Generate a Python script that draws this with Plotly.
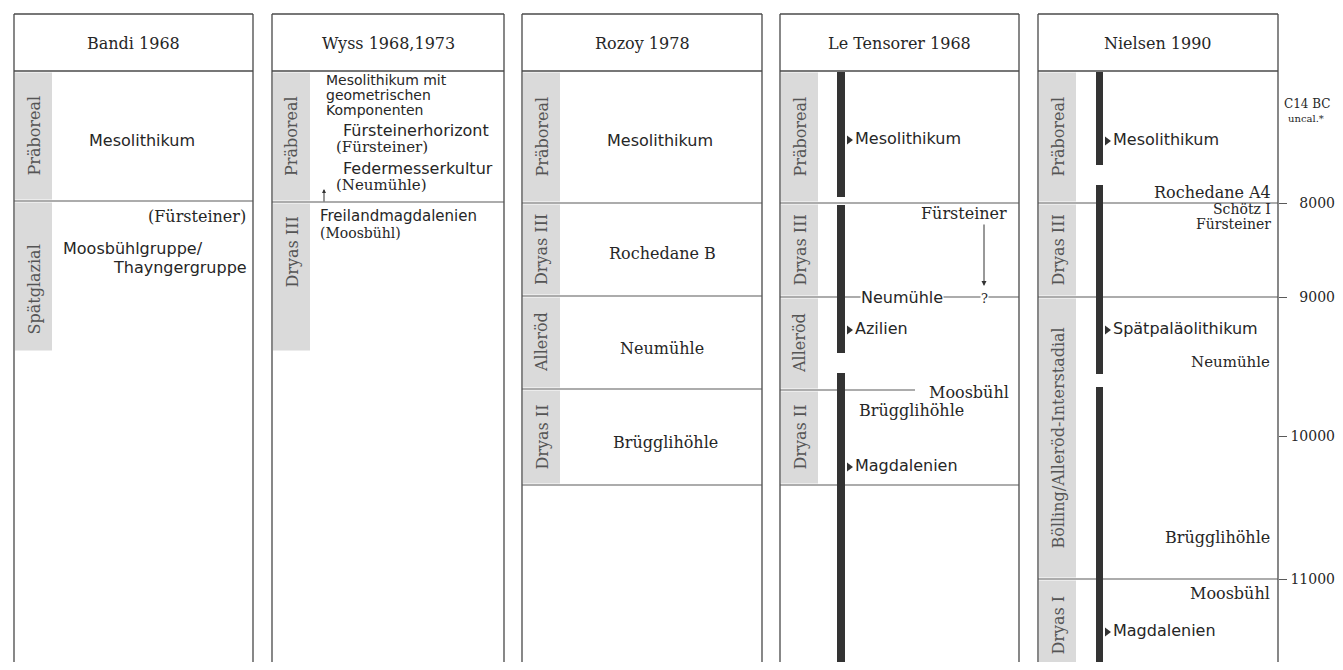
import plotly.graph_objects as go

# ---------------- data ----------------
AUTHORS = ["Bandi 1968", "Wyss 1968,1973", "Rozoy 1978", "Le Tensorer 1968", "Nielsen 1990"]

# climatic phases per author (names) and their boundaries on the schematic depth scale
BANDI_PHASES = ["Präboreal", "Spätglazial"]
BANDI_EDGES = [71, 201, 352]
WYSS_PHASES = ["Präboreal", "Dryas III"]
WYSS_EDGES = [71, 202, 352]
ROZOY_PHASES = ["Präboreal", "Dryas III", "Alleröd", "Dryas II"]
ROZOY_EDGES = [71, 203, 296, 389, 485]
TENSORER_PHASES = ["Präboreal", "Dryas III", "Alleröd", "Dryas II"]
TENSORER_EDGES = [71, 203, 297, 390, 485]
NIELSEN_PHASES = ["Präboreal", "Dryas III", "Bölling/Alleröd-Interstadial", "Dryas I"]
NIELSEN_EDGES = [71, 203, 297, 579, 670]

# C14 age scale (right side)
AGE_TICKS = [8000, 9000, 10000, 11000]
AGE_TICK_DEPTH = [203, 297, 436, 579]

# black occupation bars
TENSORER_BAR_FROM = [72, 205, 373]
TENSORER_BAR_TO = [197, 353, 670]
NIELSEN_BAR_FROM = [72, 185, 387]
NIELSEN_BAR_TO = [165, 374, 670]

# marked cultures on the bars
TENSORER_MARKS = ["Mesolithikum", "Azilien", "Magdalenien"]
TENSORER_MARK_DEPTH = [140, 330, 467]
NIELSEN_MARKS = ["Mesolithikum", "Spätpaläolithikum", "Magdalenien"]
NIELSEN_MARK_DEPTH = [141, 330, 632]

# free labels
BANDI_LABELS = ["Mesolithikum", "(Fürsteiner)", "Moosbühlgruppe/", "Thayngergruppe"]
BANDI_LABEL_DEPTH = [140, 216, 248, 267]
WYSS_LABELS = ["Mesolithikum mit", "geometrischen", "Komponenten", "Fürsteinerhorizont",
               "(Fürsteiner)", "Federmesserkultur", "(Neumühle)", "Freilandmagdalenien", "(Moosbühl)"]
WYSS_LABEL_DEPTH = [80, 95, 110, 130, 147, 168, 185, 216, 233]
ROZOY_LABELS = ["Mesolithikum", "Rochedane B", "Neumühle", "Brügglihöhle"]
ROZOY_LABEL_DEPTH = [140, 253, 348, 442]
TENSORER_LABELS = ["Fürsteiner", "Neumühle", "?", "Moosbühl", "Brügglihöhle"]
TENSORER_LABEL_DEPTH = [213, 297, 298, 392, 410]
NIELSEN_LABELS = ["Rochedane A4", "Schötz I", "Fürsteiner", "Neumühle", "Brügglihöhle", "Moosbühl"]
NIELSEN_LABEL_DEPTH = [192, 209, 224, 362, 537, 593]

# ---------------- layout / style ----------------
PAGE_W, PAGE_H = 1343, 670
PAGE_MARGIN = 8                      # default body margin of the html page
W, H = PAGE_W - 2 * PAGE_MARGIN, PAGE_H - 2 * PAGE_MARGIN
X_END, Y_END = PAGE_MARGIN + W, PAGE_MARGIN + H
SERIF = "DejaVu Serif"
SANS = "DejaVu Sans"
INK = "#262626"
LINE = "#5a5a5a"
STRIP = "#dadada"
STRIP_W = 37
TOP, HEAD_BOTTOM = 14, 71

COL_LEFT = [14, 272, 522, 780, 1038]
COL_RIGHT = [253, 504, 762, 1019, 1278]

PHASES = [BANDI_PHASES, WYSS_PHASES, ROZOY_PHASES, TENSORER_PHASES, NIELSEN_PHASES]
EDGES = [BANDI_EDGES, WYSS_EDGES, ROZOY_EDGES, TENSORER_EDGES, NIELSEN_EDGES]
LINE_EDGES = [
    [(201, None)],
    [(202, None)],
    [(203, None), (296, None), (389, None), (485, None)],
    [(203, None), (297, None), (390, 915), (485, None)],
    [(203, None), (297, None), (579, None)],
]
STRIP_LABEL_CENTER = {(0, 1): 290, (1, 1): 252, (3, 3): 437, (4, 3): 625}

BANDI_POS = [(142, "center", SANS, 16), (247, "right", SERIF, 16),
             (62, "left", SANS, 16), (248, "right", SANS, 16)]
WYSS_POS = [(325, "left", SANS, 14), (325, "left", SANS, 14), (325, "left", SANS, 14),
            (342, "left", SANS, 16), (335, "left", SERIF, 15), (342, "left", SANS, 16),
            (335, "left", SERIF, 15), (319, "left", SANS, 15), (319, "left", SERIF, 14)]
ROZOY_POS = [(660, "center", SANS, 16), (662, "center", SERIF, 16),
             (662, "center", SERIF, 16), (665, "center", SERIF, 16)]
TENSORER_POS = [(1008, "right", SERIF, 16), (902, "center", SANS, 16), (984, "center", SERIF, 13),
                (1010, "right", SERIF, 16), (858, "left", SERIF, 16)]
NIELSEN_POS = [(1272, "right", SERIF, 16), (1272, "right", SERIF, 14), (1272, "right", SERIF, 14),
               (1271, "right", SERIF, 15), (1271, "right", SERIF, 16), (1271, "right", SERIF, 16)]

fig = go.Figure()
shapes = []
annotations = []

for c, author in enumerate(AUTHORS):
    L, R = COL_LEFT[c], COL_RIGHT[c]
    for x in (L, R):
        shapes.append(dict(type="line", x0=x, x1=x, y0=TOP, y1=Y_END + 5,
                           line=dict(color="#6a6a6a", width=1.6)))
    for y in (TOP, HEAD_BOTTOM):
        shapes.append(dict(type="line", x0=L, x1=R, y0=y, y1=y, line=dict(color="#4a4a4a", width=1.4)))
    annotations.append(dict(x=(L + R) / 2, y=(TOP + HEAD_BOTTOM) / 2 + 1, text=author, showarrow=False,
                            font=dict(family=SERIF, size=16, color=INK)))
    edges = EDGES[c]
    for i, name in enumerate(PHASES[c]):
        y0, y1 = edges[i], min(edges[i + 1], Y_END + 5)
        shapes.append(dict(type="rect", x0=L + 1, x1=L + 1 + STRIP_W, y0=y0 + 1.5, y1=y1 - 1.5,
                           fillcolor=STRIP, line=dict(width=0), layer="below"))
        yc = STRIP_LABEL_CENTER.get((c, i), (y0 + y1) / 2)
        annotations.append(dict(x=L + 1 + STRIP_W / 2, y=yc, text=name, textangle=-90, showarrow=False,
                                font=dict(family=SERIF, size=16, color="#555555")))
    for y, xend in LINE_EDGES[c]:
        shapes.append(dict(type="line", x0=L, x1=xend if xend else R, y0=y, y1=y,
                           line=dict(color=LINE, width=1.2)))

# black bars
for froms, tos, xb in [(TENSORER_BAR_FROM, TENSORER_BAR_TO, (837, 845)),
                       (NIELSEN_BAR_FROM, NIELSEN_BAR_TO, (1096, 1103))]:
    for a, b in zip(froms, tos):
        shapes.append(dict(type="rect", x0=xb[0], x1=xb[1], y0=a, y1=min(b, Y_END + 5),
                           fillcolor="#333333", line=dict(width=0)))

# bar markers and labels
for marks, depth, xm in [(TENSORER_MARKS, TENSORER_MARK_DEPTH, 849),
                         (NIELSEN_MARKS, NIELSEN_MARK_DEPTH, 1107)]:
    fig.add_trace(go.Scatter(x=[xm] * len(depth), y=depth, mode="markers+text",
                             marker=dict(symbol="triangle-right", size=8, color="#333333"),
                             text=marks, textposition="middle right",
                             textfont=dict(family=SANS, size=16, color=INK),
                             hoverinfo="skip", showlegend=False))

# free labels
for labels, depths, pos in [(BANDI_LABELS, BANDI_LABEL_DEPTH, BANDI_POS),
                            (WYSS_LABELS, WYSS_LABEL_DEPTH, WYSS_POS),
                            (ROZOY_LABELS, ROZOY_LABEL_DEPTH, ROZOY_POS),
                            (TENSORER_LABELS, TENSORER_LABEL_DEPTH, TENSORER_POS),
                            (NIELSEN_LABELS, NIELSEN_LABEL_DEPTH, NIELSEN_POS)]:
    for text, y, (x, anchor, fam, size) in zip(labels, depths, pos):
        a = dict(x=x, y=y, text=text, showarrow=False, xanchor=anchor,
                 font=dict(family=fam, size=size, color=INK), borderpad=0)
        if labels is TENSORER_LABELS and text in ("Neumühle", "?"):
            a["bgcolor"] = "white"
        annotations.append(a)

# arrows
annotations.append(dict(x=984, y=286, ax=984, ay=223, axref="x", ayref="y", text="", showarrow=True,
                        arrowhead=2, arrowsize=1, arrowwidth=1, arrowcolor="#333333"))
annotations.append(dict(x=324, y=189, ax=324, ay=203, axref="x", ayref="y", text="", showarrow=True,
                        arrowhead=2, arrowsize=0.8, arrowwidth=1, arrowcolor="#333333"))

# axis title
annotations.append(dict(x=1333, y=104, text="C14 BC", showarrow=False, xanchor="right",
                        font=dict(family=SERIF, size=12, color=INK)))
annotations.append(dict(x=1326, y=118, text="uncal.*", showarrow=False, xanchor="right",
                        font=dict(family=SERIF, size=10, color=INK)))

for ax in ("y2", "y3"):
    fig.add_trace(go.Scatter(x=[100], y=[AGE_TICK_DEPTH[0]], yaxis=ax, mode="markers",
                             marker=dict(opacity=0), hoverinfo="skip", showlegend=False))

fig.update_layout(
    width=W, height=H, margin=dict(l=0, r=0, t=0, b=0),
    paper_bgcolor="white", plot_bgcolor="white",
    xaxis=dict(range=[PAGE_MARGIN, X_END], visible=False, fixedrange=True),
    yaxis=dict(range=[Y_END, PAGE_MARGIN], visible=False, fixedrange=True),
    yaxis2=dict(range=[Y_END, PAGE_MARGIN], overlaying="y", anchor="free",
                position=(1278 - PAGE_MARGIN) / W, side="right",
                tickvals=AGE_TICK_DEPTH, ticktext=[str(a) for a in AGE_TICKS], showticklabels=False,
                ticks="outside", ticklen=8, tickcolor=LINE, tickwidth=1.2,
                showgrid=False, zeroline=False, showline=False, fixedrange=True),
    yaxis3=dict(range=[Y_END, PAGE_MARGIN], overlaying="y", anchor="free", position=1.0, side="left",
                tickvals=AGE_TICK_DEPTH, ticktext=[str(a) for a in AGE_TICKS],
                ticks="", tickfont=dict(family=SERIF, size=14, color=INK), ticklabelstandoff=0,
                showgrid=False, zeroline=False, showline=False, fixedrange=True),
    shapes=shapes, annotations=annotations, showlegend=False,
)

fig.write_html("out.html")
